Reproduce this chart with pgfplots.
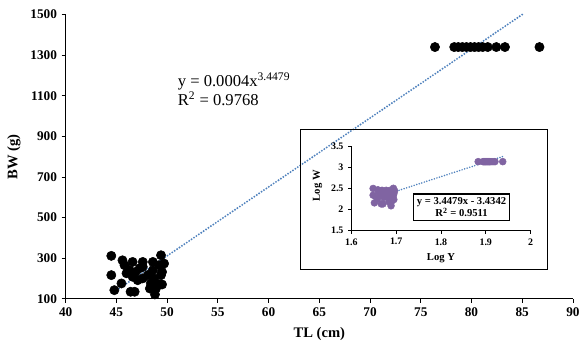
\documentclass[border=0pt]{standalone}
\usepackage{fontspec}
\setmainfont{Liberation Serif}
\usepackage{pgfplots}
\pgfplotsset{compat=1.18}
\definecolor{trend}{RGB}{79,129,189}
\definecolor{purp}{RGB}{128,100,162}
\begin{document}
\begin{tikzpicture}
\path (-49.5pt,-35.8pt) rectangle (388.5pt,225.2pt);
\begin{axis}[
  at={(0,0)}, anchor=south west,
  scale only axis, width=382.5pt, height=214.2pt,
  xmin=40, xmax=90, ymin=100, ymax=1500,
  xtick={40,45,...,90}, ytick={100,300,...,1500},
  axis x line=bottom, axis y line=left,
  axis line style={-, line width=0.8pt},
  tick align=outside, major tick length=3pt,
  tick style={black, line width=0.6pt},
  /pgf/number format/assume math mode=true,
  /pgf/number format/set thousands separator={},
  ticklabel style={font=\fontsize{10}{11}\selectfont\bfseries},
  xlabel={TL (cm)}, ylabel={BW (g)},
  label style={font=\fontsize{11}{12}\selectfont\bfseries},
  xlabel style={at={(axis description cs:0.5,-0.125)}, anchor=center},
  ylabel style={at={(axis description cs:-0.102,0.5)}, anchor=center},
  clip=false,
]
\addplot[only marks, mark=*, mark size=3.5pt, color=black] coordinates {
(44.5,311) (44.5,216) (44.8,142) (45.5,175) (45.6,289) (45.8,265) (46.3,240)
(46.6,281) (46.6,208) (46.4,134) (46.8,134) (46.9,232) (47.1,191) (47.6,281)
(47.6,257) (47.6,200) (48.1,216) (48.4,175) (48.6,281) (48.6,240) (48.7,200)
(48.9,150) (48.8,121) (49.2,265) (49.4,314) (49.5,232) (49.7,273) (49.0,175)
(49.4,216) (48.3,150) (49.5,170) (47.3,250) (46.0,225)
(76.4,1340) (78.3,1340) (78.7,1340) (79.1,1340) (79.5,1340) (79.9,1340)
(80.3,1340) (80.7,1340) (81.1,1340) (81.6,1340) (82.45,1340) (83.3,1340) (86.7,1340)
};
\addplot[trend, line width=1.6pt, line cap=round, dash pattern=on 0pt off 2.2pt] coordinates {(44.8,134) (85,1500)};
\node[anchor=base west, font=\fontsize{12.5}{14}\selectfont] at (axis cs:50.6,1146) {y = 0.0004x\textsuperscript{3.4479}};
\node[anchor=base west, font=\fontsize{12.5}{14}\selectfont] at (axis cs:50.6,1051) {R\textsuperscript{2} = 0.9768};
\end{axis}
\draw[line width=0.8pt] (177.2pt,22.2pt) rectangle (363.5pt,127.7pt);
\begin{axis}[
  at={(215.5pt,51.45pt)}, anchor=south west,
  scale only axis, width=135pt, height=63.75pt,
  xmin=1.6, xmax=2, ymin=1.5, ymax=3.5,
  xtick={1.6,1.7,1.8,1.9,2}, ytick={1.5,2,2.5,3,3.5},
  xticklabels={1.6,1.7,1.8,1.9,2}, yticklabels={1.5,2,2.5,3,3.5},
  axis x line=bottom, axis y line=left,
  axis line style={-, line width=0.7pt},
  tick align=outside, major tick length=2.5pt,
  tick style={black, line width=0.5pt},
  ticklabel style={font=\fontsize{7.5}{8}\selectfont\bfseries},
  xlabel={Log Y}, ylabel={Log W},
  label style={font=\fontsize{8}{9}\selectfont\bfseries},
  xlabel style={at={(axis description cs:0.5,-0.333)}, anchor=center},
  ylabel style={at={(axis description cs:-0.189,0.53)}, anchor=center},
  clip=false,
]
\addplot[only marks, mark=*, mark size=2.6pt, color=purp] coordinates {
(1.6484,2.4928) (1.6484,2.3345) (1.6513,2.1523) (1.6580,2.2430) (1.6590,2.4609)
(1.6609,2.4232) (1.6656,2.3802) (1.6684,2.4487) (1.6684,2.3181) (1.6665,2.1271)
(1.6702,2.1271) (1.6712,2.3655) (1.6730,2.2810) (1.6776,2.4487) (1.6776,2.4099)
(1.6776,2.3010) (1.6821,2.3345) (1.6848,2.2430) (1.6866,2.4487) (1.6866,2.3802)
(1.6875,2.3010) (1.6893,2.1761) (1.6884,2.0828) (1.6920,2.4232) (1.6937,2.4969)
(1.6946,2.3655) (1.6964,2.4362) (1.6902,2.2430) (1.6937,2.3345) (1.6839,2.1761)
(1.6946,2.2304) (1.6749,2.3979) (1.6628,2.3522)
(1.8831,3.1271) (1.8938,3.1271) (1.8960,3.1271) (1.8982,3.1271) (1.9004,3.1271)
(1.9025,3.1271) (1.9047,3.1271) (1.9069,3.1271) (1.9090,3.1271) (1.9117,3.1271)
(1.9162,3.1271) (1.9206,3.1271) (1.9380,3.1271)
};
\addplot[trend, line width=1.3pt, line cap=round, dash pattern=on 0pt off 2pt] coordinates {(1.65,2.255) (1.94,3.255)};
\node[draw, line width=0.8pt, fill=white, align=center, inner sep=2.5pt, font=\fontsize{8}{9.5}\selectfont\bfseries] at (axis cs:1.846,2.05) {y = 3.4479x - 3.4342\\R\textsuperscript{2} = 0.9511};
\end{axis}
\end{tikzpicture}
\end{document}
